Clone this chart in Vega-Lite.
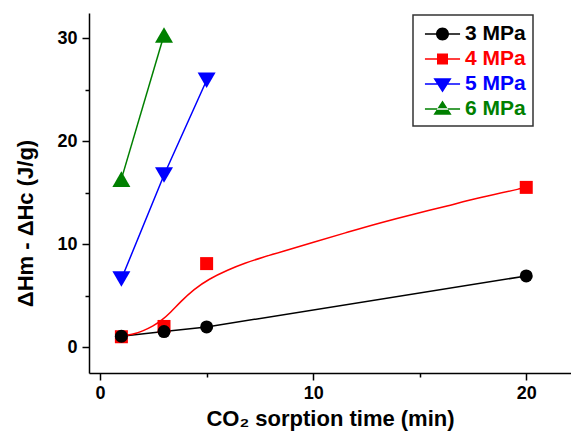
{
  "$schema": "https://vega.github.io/schema/vega-lite/v6.json",
  "width": 482,
  "height": 360,
  "autosize": {"type": "none"},
  "padding": {"left": 89, "top": 13, "right": 0, "bottom": 63},
  "config": {
    "view": {"stroke": null},
    "font": "Liberation Sans",
    "axis": {
      "grid": false,
      "domainColor": "black",
      "domainWidth": 1.5,
      "tickColor": "black",
      "tickWidth": 1.5,
      "labelFont": "Liberation Sans",
      "labelFontSize": 18,
      "labelFontWeight": "bold",
      "labelColor": "black",
      "titleFont": "Liberation Sans",
      "titleFontSize": 22,
      "titleFontWeight": "bold",
      "titleColor": "black"
    }
  },
  "data": {
    "values": [
      {"s": "3 MPa", "k": "pt", "t": 1, "v": 1.05},
      {"s": "3 MPa", "k": "pt", "t": 3, "v": 1.5},
      {"s": "3 MPa", "k": "pt", "t": 5, "v": 1.95},
      {"s": "3 MPa", "k": "pt", "t": 20, "v": 6.9},
      {"s": "4 MPa", "k": "pt", "t": 1, "v": 1.0},
      {"s": "4 MPa", "k": "pt", "t": 3, "v": 2.0},
      {"s": "4 MPa", "k": "pt", "t": 5, "v": 8.1},
      {"s": "4 MPa", "k": "pt", "t": 20, "v": 15.5},
      {"s": "5 MPa", "k": "pt", "t": 1, "v": 6.6},
      {"s": "5 MPa", "k": "pt", "t": 3, "v": 16.7},
      {"s": "5 MPa", "k": "pt", "t": 5, "v": 25.9},
      {"s": "6 MPa", "k": "pt", "t": 1, "v": 16.3},
      {"s": "6 MPa", "k": "pt", "t": 3, "v": 30.3},
      {"s": "4 MPa", "k": "fit", "t": 1, "v": 1.05},
      {"s": "4 MPa", "k": "fit", "t": 1.5, "v": 1.2},
      {"s": "4 MPa", "k": "fit", "t": 2, "v": 1.55},
      {"s": "4 MPa", "k": "fit", "t": 2.5, "v": 2.05},
      {"s": "4 MPa", "k": "fit", "t": 2.9, "v": 2.6},
      {"s": "4 MPa", "k": "fit", "t": 3.3, "v": 3.35},
      {"s": "4 MPa", "k": "fit", "t": 3.8, "v": 4.45},
      {"s": "4 MPa", "k": "fit", "t": 4.4, "v": 5.6},
      {"s": "4 MPa", "k": "fit", "t": 5.1, "v": 6.6},
      {"s": "4 MPa", "k": "fit", "t": 6, "v": 7.5},
      {"s": "4 MPa", "k": "fit", "t": 6.8, "v": 8.15},
      {"s": "4 MPa", "k": "fit", "t": 7.6, "v": 8.7},
      {"s": "4 MPa", "k": "fit", "t": 8.5, "v": 9.25},
      {"s": "4 MPa", "k": "fit", "t": 10, "v": 10.15},
      {"s": "4 MPa", "k": "fit", "t": 11.6, "v": 11.15},
      {"s": "4 MPa", "k": "fit", "t": 13.2, "v": 12.1},
      {"s": "4 MPa", "k": "fit", "t": 14.7, "v": 12.9},
      {"s": "4 MPa", "k": "fit", "t": 16.3, "v": 13.7},
      {"s": "4 MPa", "k": "fit", "t": 17.8, "v": 14.5},
      {"s": "4 MPa", "k": "fit", "t": 20, "v": 15.5}
    ]
  },
  "resolve": {"axis": {"x": "independent", "y": "independent"}},
  "layer": [
    {
      "transform": [{"filter": "datum.k === 'pt' && datum.s === '3 MPa'"}],
      "mark": {"type": "line", "strokeWidth": 1.5, "color": "#000000"},
      "encoding": {
        "x": {"field": "t", "type": "quantitative", "scale": {"domain": [-0.52, 22.1], "nice": false, "zero": false},
              "axis": {"orient": "bottom", "values": [0, 10, 20], "tickSize": 7, "labelPadding": 4, "labelFlush": false, "title": "CO₂ sorption time (min)", "titlePadding": 6}},
        "y": {"field": "v", "type": "quantitative", "scale": {"domain": [-2.52, 32.43], "nice": false, "zero": false},
              "axis": {"orient": "left", "values": [0, 10, 20, 30], "tickSize": 7, "labelPadding": 5, "title": "ΔHm - ΔHc (J/g)", "titlePadding": 19, "titleY": 210, "titleAlign": "center", "titleAnchor": null}}
      }
    },
    {
      "transform": [{"filter": "datum.k === 'fit'"}],
      "mark": {"type": "line", "strokeWidth": 1.5, "interpolate": "basis", "color": "#ff0000"},
      "encoding": {
        "x": {"field": "t", "type": "quantitative", "axis": {"orient": "bottom", "values": [5, 15], "tickSize": 4, "labels": false, "domain": false, "title": null}},
        "y": {"field": "v", "type": "quantitative", "axis": {"orient": "left", "values": [5, 15, 25], "tickSize": 4, "labels": false, "domain": false, "title": null}}
      }
    },
    {
      "transform": [{"filter": "datum.k === 'pt' && datum.s === '5 MPa'"}],
      "mark": {"type": "line", "strokeWidth": 1.5, "color": "#0000ff"},
      "encoding": {
        "x": {"field": "t", "type": "quantitative", "axis": null},
        "y": {"field": "v", "type": "quantitative", "axis": null}
      }
    },
    {
      "transform": [{"filter": "datum.k === 'pt' && datum.s === '6 MPa'"}],
      "mark": {"type": "line", "strokeWidth": 1.5, "color": "#008000"},
      "encoding": {
        "x": {"field": "t", "type": "quantitative", "axis": null},
        "y": {"field": "v", "type": "quantitative", "axis": null}
      }
    },
    {
      "transform": [{"filter": "datum.k === 'pt' && datum.s === '4 MPa'"}],
      "mark": {"type": "point", "filled": true, "opacity": 1, "shape": "square", "size": 169, "color": "#ff0000"},
      "encoding": {
        "x": {"field": "t", "type": "quantitative", "axis": null},
        "y": {"field": "v", "type": "quantitative", "axis": null}
      }
    },
    {
      "transform": [{"filter": "datum.k === 'pt' && datum.s === '3 MPa'"}],
      "mark": {"type": "point", "filled": true, "opacity": 1, "shape": "circle", "size": 169, "color": "#000000"},
      "encoding": {
        "x": {"field": "t", "type": "quantitative", "axis": null},
        "y": {"field": "v", "type": "quantitative", "axis": null}
      }
    },
    {
      "transform": [{"filter": "datum.k === 'pt' && datum.s === '5 MPa'"}],
      "mark": {"type": "point", "filled": true, "opacity": 1, "shape": "triangle-down", "size": 324, "color": "#0000ff"},
      "encoding": {
        "x": {"field": "t", "type": "quantitative", "axis": null},
        "y": {"field": "v", "type": "quantitative", "axis": null}
      }
    },
    {
      "transform": [{"filter": "datum.k === 'pt' && datum.s === '6 MPa'"}],
      "mark": {"type": "point", "filled": true, "opacity": 1, "shape": "triangle-up", "size": 324, "color": "#008000"},
      "encoding": {
        "x": {"field": "t", "type": "quantitative", "axis": null},
        "y": {"field": "v", "type": "quantitative", "axis": null}
      }
    },
    {
      "transform": [{"filter": "datum.k === 'pt'"}],
      "mark": {"type": "point", "filled": true, "opacity": 0, "size": 169},
      "encoding": {
        "x": {"field": "t", "type": "quantitative", "axis": null},
        "y": {"field": "v", "type": "quantitative", "axis": null},
        "color": {"field": "s", "type": "nominal",
          "scale": {"domain": ["3 MPa", "4 MPa", "5 MPa", "6 MPa"], "range": ["#000000", "#ff0000", "#0000ff", "#008000"]},
          "legend": {"orient": "none", "legendX": 324, "legendY": 2, "title": null, "padding": 7, "strokeColor": "#333333",
            "symbolSize": 169, "symbolOffset": 12, "labelOffset": 12, "labelFont": "Liberation Sans", "labelFontSize": 21, "labelFontWeight": "bold",
            "rowPadding": 3, "clipHeight": 22, "symbolStrokeWidth": 0, "symbolOpacity": 1,
            "encode": {"labels": {"update": {"fill": {"scale": "color", "field": "value"}, "y": {"value": 12}}}, "symbols": {"update": {"opacity": {"value": 1}, "y": {"value": 12}}}, "legend": {"update": {"strokeWidth": {"value": 1.5}}}}}},
        "shape": {"field": "s", "type": "nominal",
          "scale": {"domain": ["3 MPa", "4 MPa", "5 MPa", "6 MPa"], "range": [
            "M-2.7,-0.12H2.7V0.12H-2.7Z M1,0A1,1,0,1,1,-1,0A1,1,0,1,1,1,0Z",
            "M-2.7,-0.12H2.7V0.12H-2.7Z M-0.85,-0.85H0.85V0.85H-0.85Z",
            "M-2.7,-0.12H2.7V0.12H-2.7Z M-1.4,-0.9H1.4L0,1.3Z",
            "M-2.7,-0.12H2.7V0.12H-2.7Z M-1.4,0.9H1.4L0,-1.3Z"]},
          "legend": {"orient": "none", "legendX": 324, "legendY": 2, "title": null, "padding": 7, "strokeColor": "#333333",
            "symbolSize": 169, "symbolOffset": 12, "labelOffset": 12, "labelFont": "Liberation Sans", "labelFontSize": 21, "labelFontWeight": "bold",
            "rowPadding": 3, "clipHeight": 22, "symbolStrokeWidth": 0, "symbolOpacity": 1,
            "encode": {"labels": {"update": {"fill": {"scale": "color", "field": "value"}, "y": {"value": 12}}}, "symbols": {"update": {"opacity": {"value": 1}, "y": {"value": 12}}}, "legend": {"update": {"strokeWidth": {"value": 1.5}}}}}}
      }
    }
  ]
}
